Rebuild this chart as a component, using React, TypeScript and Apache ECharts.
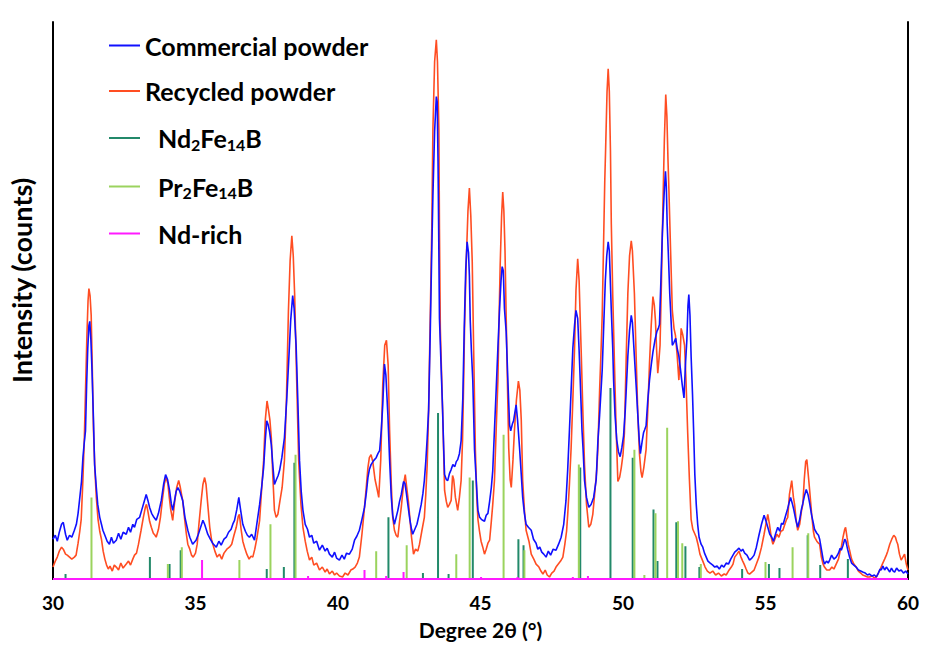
import React, { useEffect, useRef } from "react";
import * as echarts from "echarts";

// 2θ (degrees), intensity (counts, arbitrary scale)
const commercialPowder: [number, number][] = [
  [30.0,40],[30.08,44],[30.15,38],[30.22,47],[30.3,55],[30.36,57],[30.44,45],[30.5,39],[30.58,44],[30.66,42],
  [30.75,49],[30.82,55],[30.88,66],[30.93,79],[31.0,98],[31.05,122],[31.1,138],[31.14,149],[31.18,195],[31.22,232],
  [31.26,255],[31.29,259],[31.33,240],[31.37,209],[31.42,160],[31.46,115],[31.52,92],[31.57,75],[31.64,62],[31.7,55],
  [31.75,49],[31.82,44],[31.9,38],[31.98,35],[32.05,42],[32.12,36],[32.22,39],[32.3,46],[32.38,40],[32.46,47],
  [32.57,45],[32.65,52],[32.72,47],[32.8,55],[32.86,52],[32.94,60],[33.04,62],[33.12,70],[33.2,78],[33.27,85],
  [33.33,79],[33.39,72],[33.46,66],[33.54,62],[33.62,59],[33.7,66],[33.8,79],[33.88,95],[33.95,105],[34.02,100],
  [34.09,89],[34.15,76],[34.2,69],[34.26,78],[34.32,88],[34.38,92],[34.45,88],[34.55,79],[34.63,62],[34.73,49],
  [34.8,42],[34.9,35],[35.02,39],[35.1,45],[35.18,52],[35.26,59],[35.32,55],[35.43,45],[35.52,40],[35.6,36],
  [35.73,32],[35.82,38],[35.9,34],[36.0,40],[36.08,42],[36.16,47],[36.25,50],[36.32,56],[36.37,59],[36.45,70],
  [36.52,82],[36.58,70],[36.66,55],[36.75,48],[36.82,44],[36.89,42],[36.97,45],[37.07,39],[37.15,55],[37.25,75],
  [37.32,92],[37.39,112],[37.45,140],[37.5,159],[37.55,155],[37.6,148],[37.66,135],[37.72,112],[37.77,95],[37.84,100],
  [37.9,104],[37.95,109],[38.03,122],[38.12,142],[38.2,180],[38.27,219],[38.34,260],[38.41,285],[38.46,272],[38.53,235],
  [38.59,180],[38.65,119],[38.71,88],[38.77,69],[38.85,55],[38.93,50],[39.0,42],[39.08,44],[39.15,36],[39.25,38],
  [39.35,29],[39.45,34],[39.55,28],[39.62,31],[39.7,25],[39.8,22],[39.88,27],[39.95,21],[40.05,19],[40.14,24],
  [40.22,20],[40.3,26],[40.4,25],[40.5,30],[40.58,39],[40.66,43],[40.75,49],[40.84,60],[40.93,72],[41.0,88],
  [41.05,102],[41.1,110],[41.16,115],[41.25,119],[41.34,122],[41.4,126],[41.46,129],[41.52,150],[41.57,175],[41.63,216],
  [41.68,205],[41.75,165],[41.81,120],[41.87,82],[41.92,64],[41.98,55],[42.04,62],[42.1,69],[42.16,78],[42.22,85],
  [42.3,98],[42.35,96],[42.4,86],[42.45,75],[42.52,60],[42.58,50],[42.62,45],[42.68,49],[42.77,55],[42.84,64],
  [42.92,75],[42.98,86],[43.03,99],[43.08,118],[43.13,142],[43.18,170],[43.24,252],[43.29,330],[43.33,385],[43.39,450],
  [43.45,485],[43.48,480],[43.51,420],[43.56,262],[43.61,220],[43.67,170],[43.71,130],[43.74,105],[43.8,100],[43.85,99],
  [43.91,106],[43.97,110],[44.03,115],[44.1,113],[44.15,118],[44.2,120],[44.26,126],[44.32,139],[44.38,182],[44.43,252],
  [44.48,310],[44.53,339],[44.58,328],[44.61,305],[44.64,260],[44.68,230],[44.73,199],[44.79,130],[44.85,99],[44.91,69],
  [44.97,62],[45.03,60],[45.08,59],[45.14,58],[45.2,64],[45.26,66],[45.32,78],[45.38,92],[45.43,109],[45.49,150],
  [45.55,190],[45.61,232],[45.67,272],[45.72,300],[45.76,314],[45.8,310],[45.84,272],[45.9,249],[45.96,200],[46.02,155],
  [46.06,149],[46.12,156],[46.16,159],[46.21,168],[46.25,175],[46.3,160],[46.37,132],[46.43,105],[46.48,82],[46.54,66],
  [46.6,55],[46.68,52],[46.78,49],[46.86,40],[46.95,36],[47.01,30],[47.08,32],[47.15,27],[47.22,25],[47.3,22],
  [47.38,28],[47.46,24],[47.55,30],[47.65,29],[47.74,35],[47.83,42],[47.92,55],[48.0,79],[48.06,110],[48.12,149],
  [48.18,190],[48.24,232],[48.3,255],[48.35,270],[48.41,262],[48.46,230],[48.5,199],[48.56,150],[48.6,130],[48.65,99],
  [48.72,82],[48.8,72],[48.88,75],[48.97,82],[49.06,100],[49.12,139],[49.18,165],[49.23,190],[49.27,210],[49.33,260],
  [49.38,300],[49.43,325],[49.48,339],[49.52,330],[49.59,270],[49.64,232],[49.67,200],[49.72,165],[49.78,140],[49.84,128],
  [49.9,123],[49.96,132],[50.02,144],[50.08,170],[50.13,200],[50.17,224],[50.23,250],[50.29,265],[50.33,258],[50.4,224],
  [50.46,195],[50.52,165],[50.57,140],[50.61,126],[50.67,138],[50.72,147],[50.76,150],[50.81,154],[50.87,180],[50.93,200],
  [50.99,215],[51.05,228],[51.12,240],[51.19,249],[51.24,252],[51.28,256],[51.33,300],[51.38,347],[51.44,385],[51.49,410],
  [51.52,395],[51.55,357],[51.6,320],[51.64,287],[51.69,258],[51.73,235],[51.79,238],[51.85,242],[51.9,232],[51.96,224],
  [52.02,210],[52.08,195],[52.14,182],[52.19,215],[52.24,240],[52.28,275],[52.31,286],[52.35,265],[52.39,224],[52.44,185],
  [52.48,147],[52.52,105],[52.57,75],[52.62,55],[52.67,42],[52.74,35],[52.8,32],[52.86,26],[52.92,22],[52.98,18],
  [53.06,16],[53.15,14],[53.22,12],[53.3,13],[53.38,10],[53.46,14],[53.54,12],[53.62,16],[53.7,15],[53.78,20],
  [53.86,24],[53.92,27],[54.0,29],[54.07,31],[54.14,28],[54.2,30],[54.27,26],[54.35,24],[54.44,19],[54.52,21],
  [54.6,24],[54.68,32],[54.77,44],[54.86,55],[54.95,64],[55.02,58],[55.08,52],[55.15,45],[55.22,42],[55.28,38],
  [55.36,46],[55.43,52],[55.5,48],[55.56,56],[55.62,55],[55.7,63],[55.78,71],[55.84,78],[55.88,82],[55.94,76],
  [55.99,70],[56.06,60],[56.13,52],[56.2,60],[56.26,70],[56.31,76],[56.37,84],[56.43,90],[56.49,85],[56.55,76],
  [56.62,64],[56.68,56],[56.72,50],[56.8,46],[56.86,44],[56.9,40],[56.96,30],[57.02,20],[57.07,15],[57.14,18],
  [57.2,16],[57.25,19],[57.32,24],[57.4,20],[57.48,22],[57.56,26],[57.62,31],[57.66,29],[57.72,34],[57.78,40],
  [57.82,38],[57.88,30],[57.95,22],[58.02,16],[58.1,14],[58.18,12],[58.26,9],[58.34,8],[58.41,7],[58.5,6],
  [58.58,4],[58.65,5],[58.74,3],[58.82,4],[58.89,2],[58.96,6],[59.02,10],[59.06,9],[59.12,13],[59.18,9],
  [59.24,12],[59.29,10],[59.36,7],[59.42,11],[59.48,8],[59.53,7],[59.6,11],[59.68,8],[59.76,9],[59.84,6],
  [59.92,8],[60.0,5],
];

const recycledPowder: [number, number][] = [
  [30.0,12],[30.08,18],[30.15,22],[30.22,28],[30.3,32],[30.36,30],[30.44,25],[30.5,24],[30.58,22],[30.66,20],
  [30.75,22],[30.81,24],[30.88,36],[30.94,48],[30.99,60],[31.05,100],[31.1,142],[31.15,200],[31.19,245],[31.23,280],
  [31.26,292],[31.3,285],[31.34,265],[31.38,210],[31.42,150],[31.47,110],[31.52,82],[31.58,60],[31.64,48],[31.7,40],
  [31.76,28],[31.82,20],[31.88,14],[31.94,10],[32.0,13],[32.08,8],[32.15,14],[32.22,12],[32.3,9],[32.38,16],
  [32.46,11],[32.57,15],[32.65,18],[32.72,14],[32.8,20],[32.86,24],[32.93,26],[33.0,35],[33.09,49],[33.17,62],
  [33.24,72],[33.28,75],[33.33,68],[33.39,58],[33.45,52],[33.52,46],[33.58,44],[33.62,42],[33.7,50],[33.77,62],
  [33.84,80],[33.91,96],[33.97,102],[34.03,96],[34.08,82],[34.13,70],[34.2,59],[34.27,78],[34.34,92],[34.41,99],
  [34.46,93],[34.51,85],[34.55,79],[34.62,60],[34.68,45],[34.73,35],[34.8,30],[34.86,24],[34.92,22],[35.0,26],
  [35.06,35],[35.12,55],[35.2,79],[35.26,95],[35.32,102],[35.37,95],[35.43,75],[35.5,52],[35.56,40],[35.61,35],
  [35.68,28],[35.76,22],[35.84,25],[35.92,20],[36.0,26],[36.1,30],[36.19,32],[36.27,35],[36.35,44],[36.43,52],
  [36.5,63],[36.54,65],[36.6,50],[36.66,38],[36.72,32],[36.8,25],[36.88,20],[36.95,23],[37.01,22],[37.08,30],
  [37.16,42],[37.25,59],[37.32,90],[37.39,119],[37.45,160],[37.51,179],[37.56,170],[37.61,160],[37.66,142],[37.71,105],
  [37.77,69],[37.83,62],[37.89,65],[37.96,78],[38.04,92],[38.12,119],[38.19,180],[38.26,269],[38.32,320],[38.38,345],
  [38.43,325],[38.48,285],[38.55,200],[38.62,119],[38.7,75],[38.77,52],[38.85,38],[38.92,28],[39.0,19],[39.08,22],
  [39.15,14],[39.25,16],[39.35,9],[39.45,12],[39.55,7],[39.62,10],[39.7,5],[39.8,8],[39.88,4],[39.95,6],
  [40.05,3],[40.16,2],[40.25,6],[40.35,4],[40.45,9],[40.52,10],[40.6,12],[40.68,16],[40.75,22],[40.84,45],
  [40.93,72],[41.0,95],[41.05,112],[41.1,122],[41.16,125],[41.22,118],[41.3,100],[41.36,92],[41.43,82],[41.5,120],
  [41.57,195],[41.64,235],[41.7,240],[41.76,215],[41.81,150],[41.87,95],[41.92,62],[41.98,49],[42.04,44],[42.1,42],
  [42.16,58],[42.22,72],[42.3,95],[42.36,105],[42.42,90],[42.47,78],[42.51,65],[42.58,42],[42.65,25],[42.72,30],
  [42.8,28],[42.86,35],[42.94,48],[43.03,62],[43.08,85],[43.13,115],[43.18,170],[43.23,252],[43.29,352],[43.33,452],
  [43.39,520],[43.45,542],[43.49,520],[43.54,452],[43.56,352],[43.59,252],[43.63,210],[43.67,170],[43.71,125],[43.74,89],
  [43.8,78],[43.85,72],[43.91,75],[43.97,79],[44.02,104],[44.06,100],[44.12,82],[44.2,69],[44.26,82],[44.32,99],
  [44.37,140],[44.41,200],[44.44,252],[44.5,319],[44.56,370],[44.61,393],[44.66,365],[44.71,319],[44.76,230],[44.82,130],
  [44.87,82],[44.91,60],[44.96,49],[45.02,38],[45.08,32],[45.14,25],[45.2,30],[45.26,36],[45.32,39],[45.38,58],
  [45.43,75],[45.49,99],[45.55,150],[45.61,199],[45.65,260],[45.69,315],[45.74,365],[45.78,389],[45.82,370],[45.86,330],
  [45.9,265],[45.95,190],[45.99,132],[46.04,100],[46.08,92],[46.14,120],[46.19,149],[46.26,180],[46.33,199],[46.38,190],
  [46.43,160],[46.48,99],[46.54,70],[46.6,49],[46.7,38],[46.78,25],[46.87,20],[46.95,15],[47.05,12],[47.12,8],
  [47.19,5],[47.27,9],[47.34,4],[47.42,2],[47.5,6],[47.58,8],[47.65,12],[47.73,15],[47.81,18],[47.89,22],
  [47.96,35],[48.02,48],[48.06,65],[48.12,95],[48.18,132],[48.24,180],[48.3,232],[48.35,290],[48.41,322],[48.46,300],
  [48.5,260],[48.53,232],[48.59,170],[48.65,115],[48.72,75],[48.8,52],[48.87,55],[48.94,65],[49.02,90],[49.08,110],
  [49.12,132],[49.18,190],[49.23,230],[49.27,265],[49.32,340],[49.36,400],[49.39,432],[49.44,490],[49.48,513],[49.52,490],
  [49.56,430],[49.59,357],[49.64,285],[49.7,217],[49.76,150],[49.82,98],[49.88,102],[49.94,112],[50.0,125],[50.05,147],
  [50.11,220],[50.17,287],[50.23,325],[50.29,340],[50.33,330],[50.4,287],[50.46,225],[50.52,165],[50.58,125],[50.63,108],
  [50.67,102],[50.73,112],[50.81,130],[50.87,170],[50.93,217],[50.99,255],[51.05,284],[51.1,275],[51.14,259],[51.18,230],
  [51.22,207],[51.26,220],[51.3,235],[51.35,300],[51.4,375],[51.45,440],[51.5,487],[51.54,465],[51.58,420],[51.61,392],
  [51.67,330],[51.73,270],[51.79,252],[51.84,245],[51.9,225],[51.96,200],[52.0,220],[52.04,252],[52.1,245],[52.16,235],
  [52.21,200],[52.27,147],[52.33,100],[52.39,60],[52.45,50],[52.51,46],[52.57,42],[52.63,35],[52.7,25],[52.8,18],
  [52.88,12],[52.96,8],[53.05,6],[53.15,8],[53.25,4],[53.35,6],[53.45,3],[53.55,5],[53.62,4],[53.7,8],
  [53.8,12],[53.86,15],[53.92,22],[54.0,25],[54.07,28],[54.14,22],[54.2,18],[54.25,15],[54.32,10],[54.38,6],
  [54.44,5],[54.52,7],[54.6,9],[54.68,15],[54.77,22],[54.86,32],[54.95,45],[55.02,56],[55.08,65],[55.14,55],
  [55.2,42],[55.26,35],[55.33,40],[55.4,45],[55.47,42],[55.54,48],[55.61,49],[55.68,55],[55.74,60],[55.78,62],
  [55.84,85],[55.92,99],[55.98,82],[56.02,75],[56.08,58],[56.13,49],[56.2,55],[56.26,68],[56.31,75],[56.36,100],
  [56.41,118],[56.45,120],[56.5,105],[56.55,89],[56.62,65],[56.68,48],[56.72,42],[56.8,38],[56.86,36],[56.9,35],
  [56.96,22],[57.02,15],[57.07,12],[57.15,9],[57.25,9],[57.33,12],[57.4,10],[57.48,15],[57.56,20],[57.62,28],
  [57.66,32],[57.72,42],[57.78,50],[57.81,52],[57.86,42],[57.9,35],[57.95,29],[58.02,20],[58.1,15],[58.18,12],
  [58.26,8],[58.34,6],[58.41,4],[58.5,3],[58.58,2],[58.65,2],[58.74,3],[58.82,1],[58.89,2],[58.96,6],
  [59.03,10],[59.1,15],[59.18,20],[59.24,24],[59.29,28],[59.36,35],[59.43,40],[59.5,44],[59.56,42],[59.6,38],
  [59.64,35],[59.7,25],[59.76,19],[59.82,22],[59.88,25],[59.94,15],[60.0,9],
];

// reference patterns (stick positions in 2θ, relative heights)
const nd2Fe14BTheta = [30.44, 33.4, 34.09, 34.48, 37.5, 38.1, 38.47, 41.77, 42.98, 43.51, 43.88, 44.73, 46.33, 46.51, 48.5, 49.56, 50.34, 51.07, 51.21, 51.87, 52.19, 52.68, 54.18, 55.12, 55.49, 56.48, 56.92, 57.89];
const nd2Fe14BHeight = [5, 22, 15, 29, 10, 12, 117, 62, 6, 167, 5, 99, 40, 34, 112, 192, 122, 70, 18, 57, 33, 12, 10, 15, 11, 44, 14, 20];

const pr2Fe14BTheta = [31.35, 34.03, 34.52, 36.54, 37.63, 38.51, 41.34, 42.41, 44.15, 44.62, 45.81, 46.54, 48.45, 50.4, 50.75, 51.14, 51.55, 51.93, 52.08, 52.73, 55.0, 55.95, 56.5];
const pr2Fe14BHeight = [82, 15, 32, 19, 55, 125, 28, 34, 25, 102, 145, 29, 115, 130, 4, 66, 152, 58, 36, 15, 17, 32, 46];

const ndRichTheta = [35.23, 38.95, 40.93, 41.69, 42.3, 45.02, 46.3, 48.24, 48.77];
const ndRichHeight = [19, 3, 9, 3, 7, 2, 2, 2, 3];

const xTicks = [30, 35, 40, 45, 50, 55, 60];

const seriesNames = ["Commercial powder", "Recycled powder", "Nd2Fe14B", "Pr2Fe14B", "Nd-rich"];
const colors = ["#1010ff", "#ff4d22", "#23896a", "#9bd35e", "#ff1aff"];

function sticks(theta: number[], height: number[]): [number, number][] {
  const pts: [number, number][] = [[xTicks[0], 0]];
  theta.forEach((t, i) => {
    pts.push([t, 0], [t, height[i]], [t, 0]);
  });
  pts.push([xTicks[xTicks.length - 1], 0]);
  return pts;
}

const FONT = "Lato, 'Open Sans', sans-serif";

export default function App() {
  const ref = useRef<HTMLDivElement>(null);
  useEffect(() => {
    if (!ref.current) return;
    const chart = echarts.init(ref.current, undefined, { renderer: "svg" });
    const lineBase = { type: "line" as const, symbol: "none", showSymbol: false, animation: false };
    chart.setOption({
      animation: false,
      backgroundColor: "#ffffff",
      grid: { left: 53, right: 23, top: 22, bottom: 63, containLabel: false },
      legend: {
        data: seriesNames,
        orient: "vertical",
        left: 109,
        top: 33,
        padding: 0,
        itemGap: 20.5,
        itemWidth: 31,
        itemHeight: 2,
        icon: "rect",
        textStyle: {
          fontFamily: FONT,
          fontSize: 25,
          fontWeight: "bold",
          color: "#000",
          rich: {
            i: { width: 13 },
            n: { fontFamily: FONT, fontSize: 25, fontWeight: "bold", color: "#000", lineHeight: 28 },
            s: { fontFamily: FONT, fontSize: 16, fontWeight: "bold", color: "#000", lineHeight: 28, verticalAlign: "bottom", padding: [12, 0, 0, 0] },
          },
        },
        formatter: (name: string) => {
          if (name === "Nd2Fe14B") return "{i|}{n|Nd}{s|2}{n|Fe}{s|14}{n|B}";
          if (name === "Pr2Fe14B") return "{i|}{n|Pr}{s|2}{n|Fe}{s|14}{n|B}";
          if (name === "Nd-rich") return "{i|}{n|Nd-rich}";
          return "{n|" + name + "}";
        },
      },
      xAxis: {
        type: "value",
        min: 30,
        max: 60,
        interval: 5,
        name: "Degree 2θ (°)",
        nameLocation: "middle",
        nameGap: 40,
        nameTextStyle: { fontFamily: FONT, fontSize: 21, fontWeight: "bold", color: "#000" },
        axisLine: { show: true, onZero: false, lineStyle: { color: "#000", width: 2 } },
        axisTick: { show: false },
        splitLine: { show: false },
        axisLabel: { fontFamily: FONT, fontSize: 19, fontWeight: "bold", color: "#000", margin: 14 },
      },
      yAxis: [
        {
          type: "value",
          min: 0,
          max: 560,
          name: "Intensity (counts)",
          nameLocation: "middle",
          nameGap: 18,
          nameRotate: 90,
          nameTextStyle: { fontFamily: FONT, fontSize: 27, fontWeight: "bold", color: "#000", padding: [0, 0, 0, 40] },
          axisLine: { show: true, lineStyle: { color: "#000", width: 2 } },
          axisTick: { show: false },
          axisLabel: { show: false },
          splitLine: { show: false },
        },
        {
          type: "value",
          position: "right",
          min: 0,
          max: 560,
          axisLine: { show: true, lineStyle: { color: "#000", width: 2 } },
          axisTick: { show: false },
          axisLabel: { show: false },
          splitLine: { show: false },
        },
      ],
      series: [
        { ...lineBase, name: seriesNames[0], data: commercialPowder, color: colors[0], lineStyle: { color: colors[0], width: 1.6 }, z: 3 },
        { ...lineBase, name: seriesNames[1], data: recycledPowder, color: colors[1], lineStyle: { color: colors[1], width: 1.6 }, z: 2 },
        { ...lineBase, name: seriesNames[2], data: sticks(nd2Fe14BTheta, nd2Fe14BHeight), color: colors[2], lineStyle: { color: colors[2], width: 2 }, z: 4 },
        { ...lineBase, name: seriesNames[3], data: sticks(pr2Fe14BTheta, pr2Fe14BHeight), color: colors[3], lineStyle: { color: colors[3], width: 2 }, z: 4 },
        { ...lineBase, name: seriesNames[4], data: sticks(ndRichTheta, ndRichHeight), color: colors[4], lineStyle: { color: colors[4], width: 2 }, z: 5 },
      ],
    });
    return () => chart.dispose();
  }, []);
  return <div ref={ref} style={{ position: "absolute", left: 0, top: 0, width: 931, height: 645 }} />;
}
